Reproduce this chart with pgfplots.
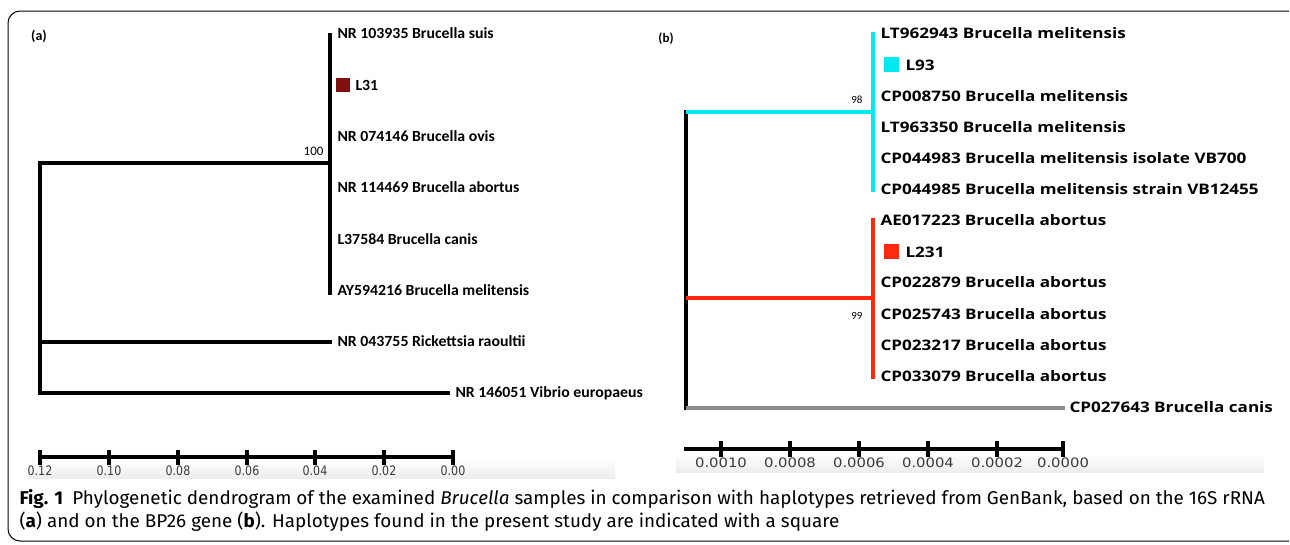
\documentclass[border=0pt]{standalone}
\usepackage{pgfplots}
\pgfplotsset{compat=1.18}
\usepackage{fontspec}
\setmainfont{Carlito}
\newfontfamily\carfont[FakeStretch=1.02]{Carlito}
\newfontfamily\osans[FakeStretch=1.18]{Open Sans}
\newfontfamily\dvsa[FakeStretch=0.85]{DejaVu Sans}
\newfontfamily\dvsb[FakeStretch=1.14]{DejaVu Sans}
\newfontfamily\capfont[FakeStretch=1.02]{Fira Sans}
\definecolor{dred}{RGB}{128,16,16}
\definecolor{cyn}{RGB}{0,232,240}
\definecolor{rd}{RGB}{255,42,14}
\definecolor{gry}{RGB}{140,140,140}
\definecolor{tickgray}{RGB}{60,60,60}
\newcommand{\la}{\carfont\fontsize{15.5}{15.5}\selectfont\bfseries}
\newcommand{\lb}{\osans\fontsize{14.5}{14.5}\selectfont\bfseries}
\begin{document}
\begin{tikzpicture}
\begin{axis}[at={(0,0)},anchor=south west,
  scale only axis, width=1290pt, height=544pt,
  xmin=0, xmax=1290, ymin=0, ymax=544, y dir=reverse,
  hide axis, clip=false,
  every axis plot/.append style={line cap=rect, line join=miter}]
% background bands under scale bars
\shade[top color=white, bottom color=black!7] (axis cs:28,460) rectangle (axis cs:615,478);
\shade[top color=white, bottom color=black!7] (axis cs:676,453) rectangle (axis cs:1264,472);
% frame
\draw[black, line width=1pt, rounded corners=12pt] (axis cs:1289,11) -- (axis cs:8,11) -- (axis cs:8,541) -- (axis cs:1289,541);
% ---------------- panel (a) ----------------
\addplot[black, line width=3.2pt] coordinates {(330,35) (330,293)};
\addplot[black, line width=3.2pt] coordinates {(40,163) (330,163)};
\addplot[black, line width=3.2pt] coordinates {(40,163) (40,393)};
\addplot[black, line width=3.2pt] coordinates {(40,342) (330,342)};
\addplot[black, line width=3.2pt] coordinates {(40,393) (448,393)};
\addplot[only marks, mark=square*, mark size=6.5pt, dred] coordinates {(343,85)};
% scale bar a
\addplot[black, line width=4pt] coordinates {(40,457) (453,457)};
\addplot[black, line width=4pt, line cap=butt] coordinates {(40,450) (40,465)};
\addplot[black, line width=4pt, line cap=butt] coordinates {(109,450) (109,465)};
\addplot[black, line width=4pt, line cap=butt] coordinates {(178,450) (178,465)};
\addplot[black, line width=4pt, line cap=butt] coordinates {(247,450) (247,465)};
\addplot[black, line width=4pt, line cap=butt] coordinates {(315,450) (315,465)};
\addplot[black, line width=4pt, line cap=butt] coordinates {(384,450) (384,465)};
\addplot[black, line width=4pt, line cap=butt] coordinates {(453,450) (453,465)};
\node[font=\fontsize{14}{14}\selectfont\bfseries] at (axis cs:39,36) {(a)};
\node[font=\fontsize{13}{13}\selectfont, anchor=east] at (axis cs:327,151) {100};
\node[font=\la, anchor=west] at (axis cs:334,33) {NR 103935 Brucella suis};
\node[font=\la, anchor=west] at (axis cs:352,85) {L31};
\node[font=\la, anchor=west] at (axis cs:334,136) {NR 074146 Brucella ovis};
\node[font=\la, anchor=west] at (axis cs:334,187) {NR 114469 Brucella abortus};
\node[font=\la, anchor=west] at (axis cs:334,239) {L37584 Brucella canis};
\node[font=\la, anchor=west] at (axis cs:334,290) {AY594216 Brucella melitensis};
\node[font=\la, anchor=west] at (axis cs:334,341) {NR 043755 Rickettsia raoultii};
\node[font=\la, anchor=west] at (axis cs:452,393) {NR 146051 Vibrio europaeus};
\foreach \xx/\lab in {40/0.12,109/0.10,178/0.08,247/0.06,315/0.04,384/0.02,453/0.00}{
  \edef\tmp{\noexpand\node[font=\noexpand\dvsa\noexpand\fontsize{13}{13}\noexpand\selectfont, text=tickgray] at (axis cs:\xx,471) {\lab};}\tmp
}
% ---------------- panel (b) ----------------
\addplot[black, line width=3.2pt] coordinates {(686,112) (686,408)};
\addplot[cyn, line width=3.2pt] coordinates {(688,112) (873,112)};
\addplot[cyn, line width=3.2pt] coordinates {(873,34) (873,190)};
\addplot[rd, line width=3.2pt] coordinates {(688,298) (873,298)};
\addplot[rd, line width=3.2pt] coordinates {(873,220) (873,377)};
\addplot[gry, line width=3.2pt] coordinates {(688,408) (1063,408)};
\addplot[only marks, mark=square*, mark size=7pt, cyn] coordinates {(891,64)};
\addplot[only marks, mark=square*, mark size=7pt, rd] coordinates {(891,251)};
% scale bar b
\addplot[black, line width=4pt] coordinates {(686,449) (1063,449)};
\addplot[black, line width=4pt, line cap=butt] coordinates {(721,441) (721,457)};
\addplot[black, line width=4pt, line cap=butt] coordinates {(790,441) (790,457)};
\addplot[black, line width=4pt, line cap=butt] coordinates {(859,441) (859,457)};
\addplot[black, line width=4pt, line cap=butt] coordinates {(928,441) (928,457)};
\addplot[black, line width=4pt, line cap=butt] coordinates {(997,441) (997,457)};
\addplot[black, line width=4pt, line cap=butt] coordinates {(1063,441) (1063,457)};
\node[font=\fontsize{13}{13}\selectfont\bfseries] at (axis cs:666,39) {(b)};
\node[font=\fontsize{11}{11}\selectfont, anchor=east] at (axis cs:866,100) {98};
\node[font=\fontsize{11}{11}\selectfont, anchor=east] at (axis cs:866,316) {99};
\node[font=\lb, anchor=west] at (axis cs:877,33) {LT962943 Brucella melitensis};
\node[font=\lb, anchor=west] at (axis cs:902,65) {L93};
\node[font=\lb, anchor=west] at (axis cs:877,96) {CP008750 Brucella melitensis};
\node[font=\lb, anchor=west] at (axis cs:877,127) {LT963350 Brucella melitensis};
\node[font=\lb, anchor=west] at (axis cs:877,158) {CP044983 Brucella melitensis isolate VB700};
\node[font=\lb, anchor=west] at (axis cs:877,189) {CP044985 Brucella melitensis strain VB12455};
\node[font=\lb, anchor=west] at (axis cs:877,220) {AE017223 Brucella abortus};
\node[font=\lb, anchor=west] at (axis cs:902,252) {L231};
\node[font=\lb, anchor=west] at (axis cs:877,282) {CP022879 Brucella abortus};
\node[font=\lb, anchor=west] at (axis cs:877,314) {CP025743 Brucella abortus};
\node[font=\lb, anchor=west] at (axis cs:877,345) {CP023217 Brucella abortus};
\node[font=\lb, anchor=west] at (axis cs:877,376) {CP033079 Brucella abortus};
\node[font=\lb, anchor=west] at (axis cs:1066,407) {CP027643 Brucella canis};
\foreach \xx/\lab in {721/0.0010,790/0.0008,859/0.0006,928/0.0004,997/0.0002,1063/0.0000}{
  \edef\tmp{\noexpand\node[font=\noexpand\dvsb\noexpand\fontsize{13}{13}\noexpand\selectfont, text=tickgray] at (axis cs:\xx,463) {\lab};}\tmp
}
% ---------------- caption ----------------
\node[font=\capfont\fontsize{18.5}{23}\selectfont, anchor=west] at (axis cs:16,499) {\textbf{Fig. 1}\enspace Phylogenetic dendrogram of the examined \textit{Brucella} samples in comparison with haplotypes retrieved from GenBank, based on the 16S rRNA};
\node[font=\capfont\fontsize{18.5}{23}\selectfont, anchor=west] at (axis cs:16,522) {(\textbf{a}) and on the BP26 gene (\textbf{b}). Haplotypes found in the present study are indicated with a square};
\end{axis}
\pgfresetboundingbox
\path (0,0) rectangle (1290pt,544pt);
\end{tikzpicture}
\end{document}
